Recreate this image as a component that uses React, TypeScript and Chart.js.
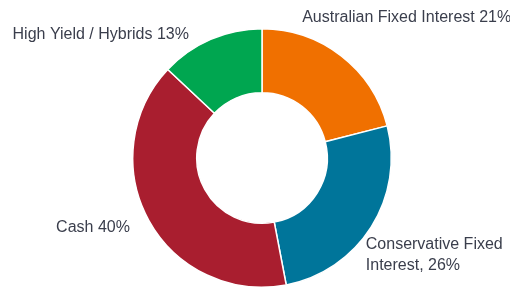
import React, { useEffect, useRef } from "react";
import { Chart, registerables } from "chart.js";

Chart.register(...registerables);

const categories = [
  "Australian Fixed Interest",
  "Conservative Fixed Interest",
  "Cash",
  "High Yield / Hybrids",
];
const values = [21, 26, 40, 13];
const labelLines = [
  ["Australian Fixed Interest 21%"],
  ["Conservative Fixed", "Interest, 26%"],
  ["Cash 40%"],
  ["High Yield / Hybrids 13%"],
];
const colors = ["#F07000", "#00759A", "#A91E2F", "#00A650"];
// label anchor offsets relative to doughnut centre, in units of outer radius
const labelOffsets = [
  [0.311, -1.049],
  [0.803, 0.707],
  [-1.593, 0.575],
  [-1.93, -0.919],
];

const labelPlugin = {
  id: "outerLabels",
  afterDatasetsDraw(chart: any) {
    const ctx = chart.ctx;
    const meta = chart.getDatasetMeta(0);
    const arc = meta.data[0];
    const cx = arc.x;
    const cy = arc.y;
    const r = arc.outerRadius;
    ctx.save();
    ctx.font = "16px 'Liberation Sans', Arial, sans-serif";
    ctx.fillStyle = "#3A3E4C";
    ctx.textAlign = "left";
    ctx.textBaseline = "alphabetic";
    labelLines.forEach((lines, i) => {
      const x = cx + labelOffsets[i][0] * r;
      const y = cy + labelOffsets[i][1] * r;
      lines.forEach((t, j) => ctx.fillText(t, x, y + j * 20.7));
    });
    ctx.restore();
  },
};

export default function App() {
  const ref = useRef<HTMLCanvasElement>(null);
  useEffect(() => {
    const chart = new Chart(ref.current!, {
      type: "doughnut",
      data: {
        labels: categories,
        datasets: [
          {
            data: values,
            backgroundColor: colors,
            borderColor: "#FFFFFF",
            borderWidth: 1.5,
          },
        ],
      },
      options: {
        animation: false,
        responsive: false,
        cutout: "50.5%",
        layout: { padding: { top: 28, bottom: 0, left: 132, right: 118 } },
        plugins: { legend: { display: false }, tooltip: { enabled: false } },
      },
      plugins: [labelPlugin],
    });
    return () => chart.destroy();
  }, []);
  return (
    <div style={{ position: "fixed", left: 0, top: 0, width: 510, height: 288, background: "#fff" }}>
      <canvas ref={ref} width={510} height={288} />
    </div>
  );
}
